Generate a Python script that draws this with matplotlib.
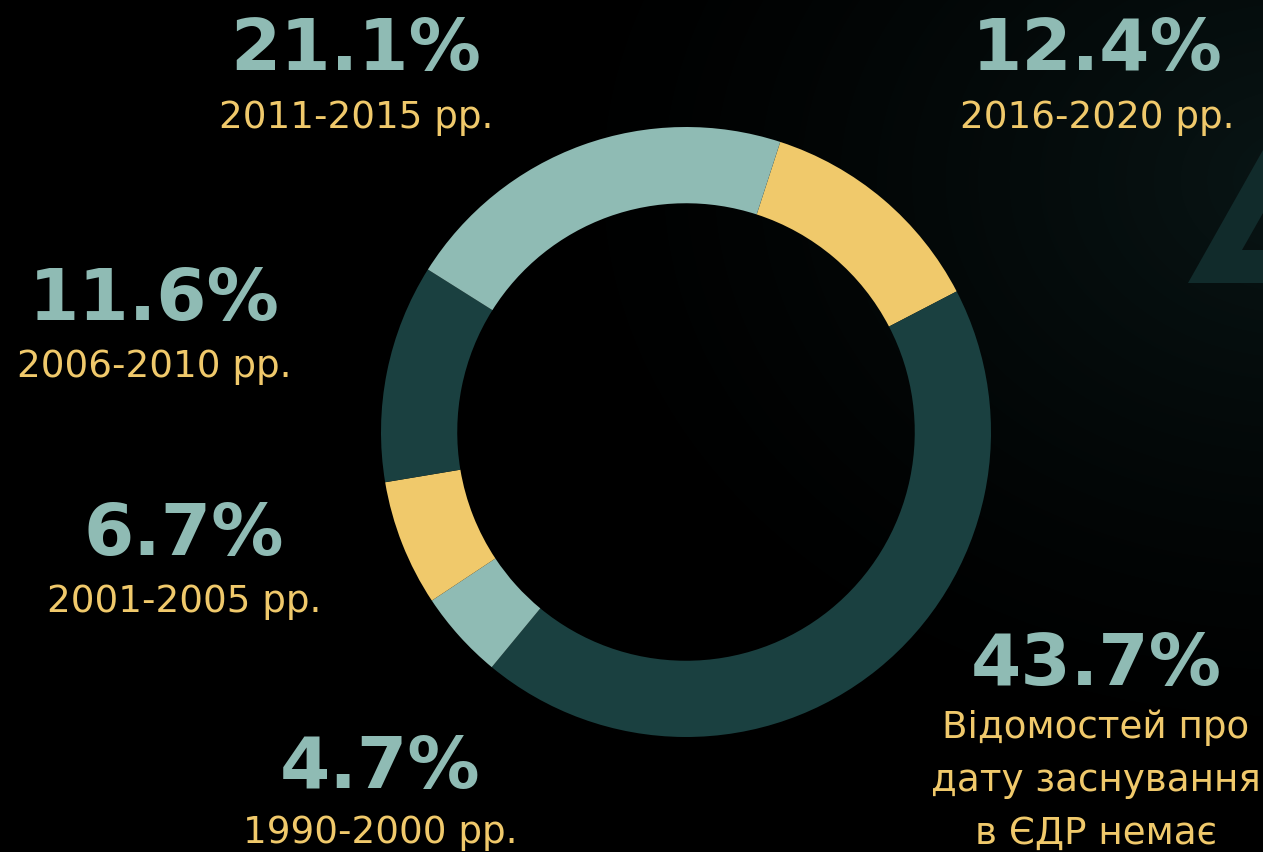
import numpy as np
import matplotlib
matplotlib.use("Agg")
import matplotlib.pyplot as plt
from matplotlib.patches import Polygon

# data, clockwise from the 2016-2020 slice
shares = [12.4, 43.7, 4.7, 6.7, 11.6, 21.1]
periods = ["2016-2020 рр.", "Відомостей про\nдату заснування\nв ЄДР немає",
           "1990-2000 рр.", "2001-2005 рр.", "2006-2010 рр.", "2011-2015 рр."]

teal = "#8fbbb4"
yellow = "#f0c96b"
dark = "#1a4040"
slice_colors = [yellow, dark, teal, yellow, dark, teal]

W, H = 1263, 852
fig = plt.figure(figsize=(W / 100, H / 100), dpi=100)

# background with faint gradient toward the top right
bg = fig.add_axes([0, 0, 1, 1])
yy, xx = np.mgrid[0:H, 0:W]
d = np.hypot(xx - 1300, (yy - 180) * 1.3)
t = np.clip(1 - d / 800, 0, 1) ** 1.5
img = np.zeros((H, W, 3))
img[..., 0] = t * 0.035
img[..., 1] = t * 0.085
img[..., 2] = t * 0.085
bg.imshow(img, extent=[0, W, H, 0], aspect="auto")
bg.add_patch(Polygon([(1188, 283), (1263, 283), (1263, 250), (1242, 250),
                      (1263, 213), (1263, 150)], closed=True,
                     facecolor="#112b2b", edgecolor="none"))
bg.set_xlim(0, W)
bg.set_ylim(H, 0)
bg.axis("off")

# donut
cx, cy, r = 686, 432, 305
ax = fig.add_axes([(cx - r) / W, 1 - (cy + r) / H, 2 * r / W, 2 * r / H])
ax.pie(shares, colors=slice_colors, startangle=72, counterclock=False,
       wedgeprops=dict(width=0.25, linewidth=0))
ax.set_xlim(-1, 1)
ax.set_ylim(-1, 1)
ax.axis("off")

# labels: (x centre, number baseline, label baseline)
pos = [(1097, 70, 128), (1096, 685, 738), (380, 788, 843),
       (184, 555, 612), (154, 320, 377), (356, 70, 128)]

for s, p, (x, yn, yl) in zip(shares, periods, pos):
    fig.text(x / W, 1 - yn / H, f"{s}%", ha="center", va="baseline",
             fontsize=52, fontweight="bold", color=teal, family="DejaVu Sans")
    lines = p.split("\n")
    for i, line in enumerate(lines):
        fig.text(x / W, 1 - (yl + i * 53) / H, line, ha="center", va="baseline",
                 fontsize=26.8, color=yellow, family="DejaVu Sans")

fig.savefig("out.png", dpi=100, facecolor="black")
